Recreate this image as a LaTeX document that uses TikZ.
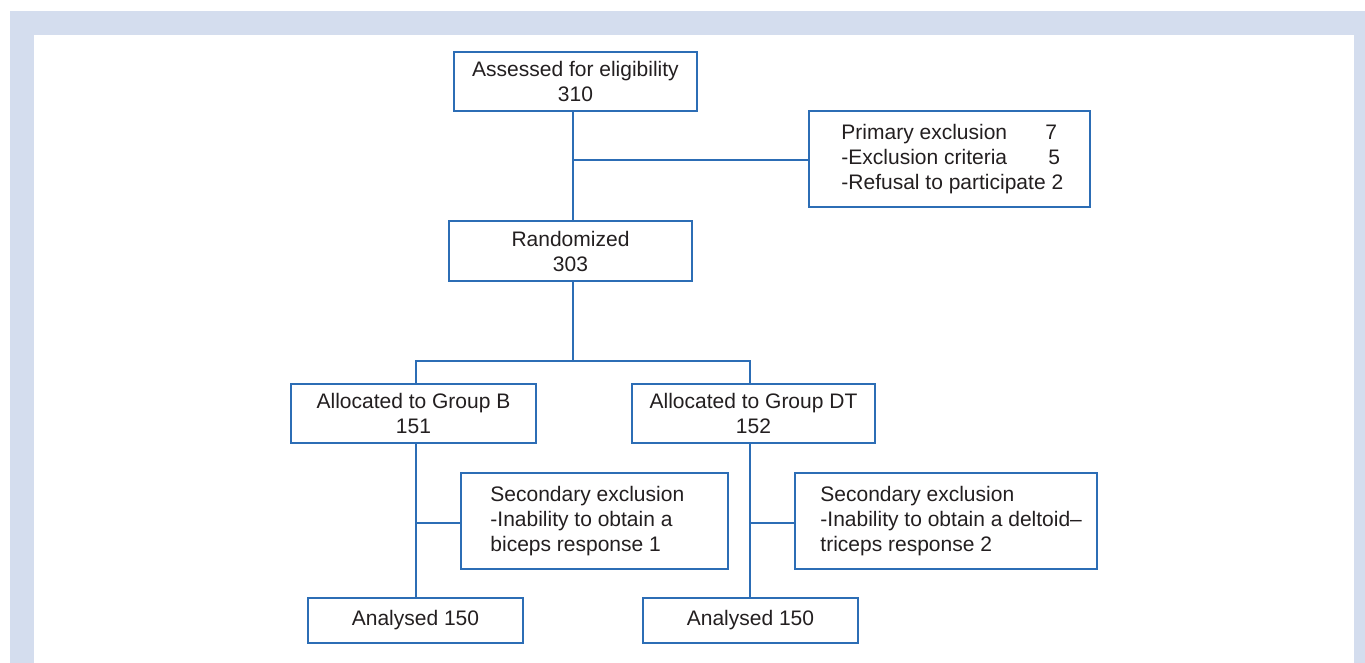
\documentclass[tikz,border=0pt]{standalone}
\usepackage{fontspec}
\setmainfont{Liberation Sans}
\definecolor{framec}{HTML}{D4DDEE}
\definecolor{linec}{HTML}{2C6DB5}
\definecolor{txtc}{HTML}{231F20}
\begin{document}
\begin{tikzpicture}[x=1pt,y=-1pt,
  box/.style={draw=linec,line width=1.5pt,fill=white,inner sep=0pt,align=center,
    text=txtc,font=\fontsize{21}{25}\selectfont},
  txt/.style={inner sep=0pt,align=left,text=txtc,font=\fontsize{21}{25}\selectfont,anchor=west},
  conn/.style={draw=linec,line width=1.5pt}]
\clip (0,0) rectangle (1365,662);
\fill[framec] (10,11) rectangle (1400,700);
\fill[white] (34,35) rectangle (1354,700);
% boxes
\node[box,minimum width=243,minimum height=59] (assess) at (575.5,81.5) {Assessed for eligibility\\310};
\node[box,minimum width=281,minimum height=96] (prim) at (949.5,159) {};
\node[txt] (primtxt) at ([xshift=33]prim.west) {\makebox[204pt][l]{Primary exclusion}7\\\makebox[207pt][l]{-Exclusion criteria}5\\-Refusal to participate 2};
\node[box,minimum width=243,minimum height=60] (rand) at (570.5,251) {Randomized\\303};
\node[box,minimum width=245,minimum height=59] (grpB) at (413.5,413.5) {Allocated to Group B\\151};
\node[box,minimum width=243,minimum height=59] (grpDT) at (753.5,413.5) {Allocated to Group DT\\152};
\node[box,minimum width=267,minimum height=96] (secB) at (594.5,521) {};
\node[txt] (secBtxt) at ([xshift=30]secB.west) {Secondary exclusion\\-Inability to obtain a\\biceps response 1};
\node[box,minimum width=302,minimum height=96] (secDT) at (946,521) {};
\node[txt] (secDTtxt) at ([xshift=26]secDT.west) {Secondary exclusion\\-Inability to obtain a deltoid–\\triceps response 2};
\node[box,minimum width=215,minimum height=45] (anaB) at (415.5,620.5) {Analysed 150};
\node[box,minimum width=215,minimum height=45] (anaDT) at (750.5,620.5) {Analysed 150};
% connector coordinates
\coordinate (j1) at (573,160);
\coordinate (j2) at (573,361);
\coordinate (jB) at (416,361);
\coordinate (jDT) at (750,361);
\coordinate (kB) at (416,523);
\coordinate (kDT) at (750,523);
% connectors
\draw[conn] (assess.south -| j1) -- (rand.north -| j1);
\draw[conn] (j1) -- (prim.west |- j1);
\draw[conn] (rand.south -| j2) -- (j2);
\draw[conn] (grpB.north -| jB) -- (jB) -- (jDT) -- (grpDT.north -| jDT);
\draw[conn] (grpB.south -| jB) -- (anaB.north -| jB);
\draw[conn] (grpDT.south -| jDT) -- (anaDT.north -| jDT);
\draw[conn] (kB) -- (secB.west |- kB);
\draw[conn] (kDT) -- (secDT.west |- kDT);
\end{tikzpicture}
\end{document}
